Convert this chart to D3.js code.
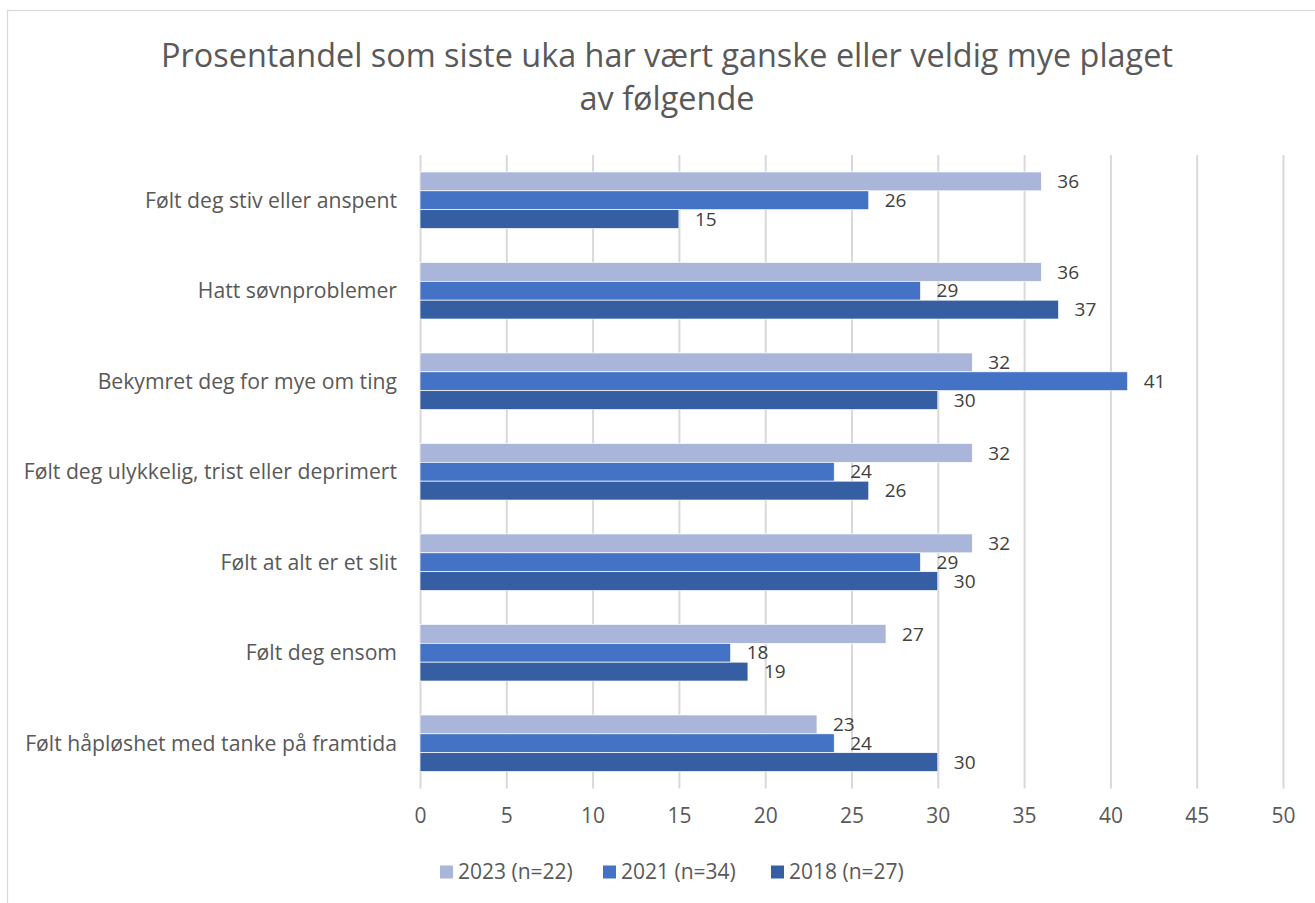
<!DOCTYPE html>
<html>
<head>
<meta charset="utf-8">
<script src="https://cdn.jsdelivr.net/npm/d3@7"></script>
<style>
  body { margin: 0; background: #fff; }
  svg { display: block; font-family: "Open Sans", sans-serif; }
</style>
</head>
<body>
<div id="chart"></div>
<script>
var width = 1315;
var height = 903;

// data
var categories = [
  "Følt deg stiv eller anspent",
  "Hatt søvnproblemer",
  "Bekymret deg for mye om ting",
  "Følt deg ulykkelig, trist eller deprimert",
  "Følt at alt er et slit",
  "Følt deg ensom",
  "Følt håpløshet med tanke på framtida"
];
var series = ["2023 (n=22)", "2021 (n=34)", "2018 (n=27)"];
var values2023 = [36, 36, 32, 32, 32, 27, 23];
var values2021 = [26, 29, 41, 24, 29, 18, 24];
var values2018 = [15, 37, 30, 26, 30, 19, 30];
var xTicks = [0, 5, 10, 15, 20, 25, 30, 35, 40, 45, 50];
var titleLines = ["Prosentandel som siste uka har vært ganske eller veldig mye plaget", "av følgende"];

var colors = ["#a9b6da", "#4472c4", "#355ea3"];
var seriesValues = [values2023, values2021, values2018];

var svg = d3.select("#chart").append("svg")
    .attr("width", width)
    .attr("height", height);

// chart frame
svg.append("rect")
    .attr("x", 7.5).attr("y", 10.5)
    .attr("width", 1330).attr("height", 920)
    .attr("fill", "#fff")
    .attr("stroke", "#d9d9d9")
    .attr("stroke-width", 1.2);

// title
svg.append("g").selectAll("text")
    .data(titleLines)
  .enter().append("text")
    .attr("x", 667)
    .attr("y", function(d, i) { return 67 + i * 43; })
    .attr("text-anchor", "middle")
    .attr("fill", "#595959")
    .style("font-size", "32.4px")
    .text(function(d) { return d; });

var x = d3.scaleLinear().domain([0, 50]).range([420, 1283]);
var y = d3.scaleBand().domain(categories).range([155, 788.5]).paddingInner(0.375).paddingOuter(0.1875);
var ySub = d3.scaleBand().domain(series).range([0, y.bandwidth()]);

// gridlines + tick labels
var xAxis = svg.append("g")
    .attr("transform", "translate(0," + 788.5 + ")")
    .call(d3.axisBottom(x).tickValues(xTicks).tickSize(-(788.5 - 155)).tickPadding(20));
xAxis.select(".domain").remove();
xAxis.selectAll(".tick line")
    .attr("stroke", "#d9d9d9")
    .attr("stroke-width", 2);
xAxis.selectAll(".tick text")
    .attr("fill", "#595959")
    .style("font-size", "21px")
    .style("font-family", "Open Sans, sans-serif");

// category labels
svg.append("g").selectAll("text")
    .data(categories)
  .enter().append("text")
    .attr("x", 397)
    .attr("y", function(d) { return y(d) + y.bandwidth() / 2; })
    .attr("dy", "0.35em")
    .attr("text-anchor", "end")
    .attr("fill", "#595959")
    .style("font-size", "21.2px")
    .text(function(d) { return d; });

// bars
var rows = [];
categories.forEach(function(c, i) {
  series.forEach(function(s, j) {
    rows.push({ cat: c, ser: s, value: seriesValues[j][i], color: colors[j] });
  });
});

var bar = svg.append("g").selectAll("g")
    .data(rows)
  .enter().append("g");

bar.append("rect")
    .attr("x", x(0))
    .attr("y", function(d) { return y(d.cat) + ySub(d.ser); })
    .attr("width", function(d) { return x(d.value) - x(0); })
    .attr("height", ySub.bandwidth())
    .attr("fill", function(d) { return d.color; })
    .attr("stroke", "#fff")
    .attr("stroke-width", 0.7);

bar.append("text")
    .attr("x", function(d) { return x(d.value) + 16; })
    .attr("y", function(d) { return y(d.cat) + ySub(d.ser) + ySub.bandwidth() / 2; })
    .attr("dy", "0.35em")
    .attr("fill", "#404040")
    .style("font-size", "19px")
    .text(function(d) { return d.value; });

// legend
var legendX = [440, 603, 771];
var legend = svg.append("g").selectAll("g")
    .data(series)
  .enter().append("g")
    .attr("transform", function(d, i) { return "translate(" + legendX[i] + ",872)"; });

legend.append("rect")
    .attr("x", 0).attr("y", -6.5)
    .attr("width", 13).attr("height", 13)
    .attr("fill", function(d, i) { return colors[i]; });

legend.append("text")
    .attr("x", 18)
    .attr("dy", "0.35em")
    .attr("fill", "#595959")
    .style("font-size", "21px")
    .text(function(d) { return d; });
</script>
</body>
</html>
